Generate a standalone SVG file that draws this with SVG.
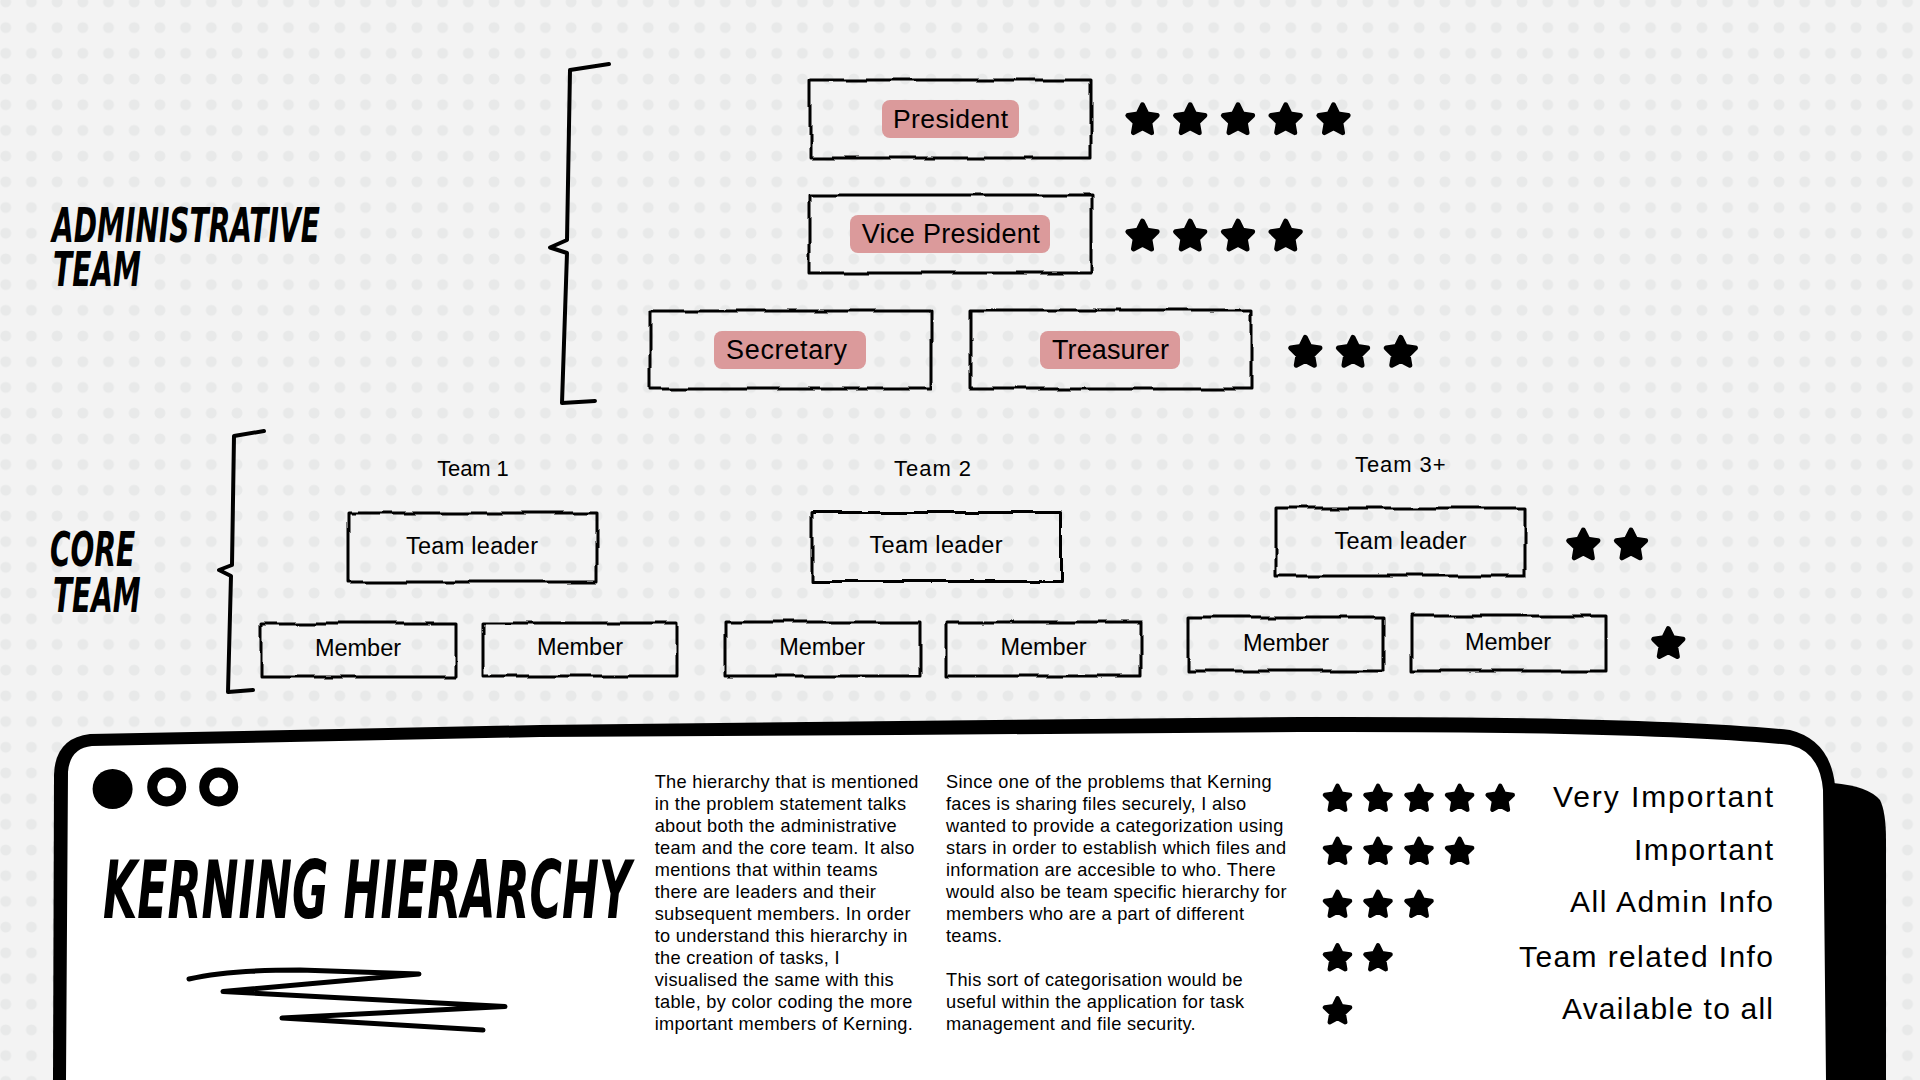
<svg xmlns="http://www.w3.org/2000/svg" width="1920" height="1080" viewBox="0 0 1920 1080">
<style>
.box{fill:none;stroke:#000;stroke-width:3;stroke-linejoin:round;filter:url(#rough)}
.pill{fill:#db9a9b}
.lbl{font-family:"Liberation Sans",Arial,sans-serif;fill:#000;text-anchor:middle}
.hand{font-family:"DejaVu Sans",sans-serif;font-style:italic;font-weight:bold;fill:#000}
.para{font-family:"Liberation Sans",Arial,sans-serif;font-size:18.2px;letter-spacing:0.3px;fill:#000}
.leg{font-family:"Liberation Sans",Arial,sans-serif;font-size:30px;fill:#000;text-anchor:end}
.brace{fill:none;stroke:#000;stroke-width:4;stroke-linecap:round;stroke-linejoin:round}
</style>
<defs>
<pattern id="dots" patternUnits="userSpaceOnUse" x="-7.15" y="-10.95" width="25.7" height="25.7">
<circle cx="12.85" cy="12.85" r="5.5" fill="#e8e9e9"/>
</pattern>
<filter id="rough" x="-5%" y="-25%" width="110%" height="150%">
<feTurbulence type="fractalNoise" baseFrequency="0.025" numOctaves="2" seed="7" result="n"/>
<feDisplacementMap in="SourceGraphic" in2="n" scale="5" xChannelSelector="R" yChannelSelector="G"/>
</filter>
<path id="star" d="M0,-14 L4.11,-5.66 L13.31,-4.33 L6.66,2.16 L8.23,11.33 L0,7 L-8.23,11.33 L-6.66,2.16 L-13.31,-4.33 L-4.11,-5.66 Z" fill="#000" stroke="#000" stroke-width="4.5" stroke-linejoin="round"/>
</defs>

<rect width="1920" height="1080" fill="#f3f3f3"/>
<rect width="1920" height="1080" fill="url(#dots)"/>

<g id="admin-title">
<text class="hand" transform="translate(52,241.5) scale(0.585,1)" font-size="48"><tspan x="0" y="0">ADMINISTRATIVE</tspan><tspan x="1.7" dy="45">TEAM</tspan></text>
</g>
<g id="core-title">
<text class="hand" transform="translate(50,566) scale(0.59,1)" font-size="47.5"><tspan x="0" y="0">CORE</tspan><tspan x="5" dy="46">TEAM</tspan></text>
</g>

<g id="braces">
<path class="brace" d="M609,64 L570,70 L567,240 L550,247.5 L567,253 L562,403 L595,401"/>
<path class="brace" d="M264,431 L234,436 L232,565 L219,570 L231,576 L228,692 L253,690"/>
</g>

<g id="president">
<rect class="box" x="810" y="80" width="281" height="78"/>
<rect class="pill" x="882" y="100" width="137" height="38" rx="8"/>
<text class="lbl" x="950.5" y="127.5" font-size="26.5" textLength="115">President</text>
</g>
<g id="vice-president">
<rect class="box" x="810" y="195" width="282" height="78"/>
<rect class="pill" x="850" y="215" width="200" height="38" rx="8"/>
<text class="lbl" x="950.7" y="243" font-size="27" textLength="178">Vice President</text>
</g>
<g id="secretary">
<rect class="box" x="650" y="311" width="281" height="78"/>
<rect class="pill" x="714" y="331" width="152" height="38" rx="8"/>
<text class="lbl" x="786.5" y="358.5" font-size="27" textLength="121">Secretary</text>
</g>
<g id="treasurer">
<rect class="box" x="970" y="310" width="281" height="79"/>
<rect class="pill" x="1040" y="331" width="140" height="38" rx="8"/>
<text class="lbl" x="1110.5" y="358.5" font-size="27" textLength="117">Treasurer</text>
</g>

<g id="admin-stars">
<use href="#star" transform="translate(1142.5,120.2) scale(1.1)"/>
<use href="#star" transform="translate(1190.2,120.2) scale(1.1)"/>
<use href="#star" transform="translate(1238,120.2) scale(1.1)"/>
<use href="#star" transform="translate(1285.7,120.2) scale(1.1)"/>
<use href="#star" transform="translate(1333.5,120.2) scale(1.1)"/>
<use href="#star" transform="translate(1142.5,236.5) scale(1.1)"/>
<use href="#star" transform="translate(1190.2,236.5) scale(1.1)"/>
<use href="#star" transform="translate(1238,236.5) scale(1.1)"/>
<use href="#star" transform="translate(1285.7,236.5) scale(1.1)"/>
<use href="#star" transform="translate(1305.3,352.8) scale(1.1)"/>
<use href="#star" transform="translate(1353,352.8) scale(1.1)"/>
<use href="#star" transform="translate(1400.8,352.8) scale(1.1)"/>
</g>

<g id="team1">
<text class="lbl" x="473" y="476" font-size="22" textLength="71.5">Team 1</text>
<g id="team1-leader">
<rect class="box" x="348" y="513" width="249" height="69"/>
<text class="lbl" x="472" y="554.3" font-size="23.5" textLength="132">Team leader</text>
</g>
<g id="team1-member1">
<rect class="box" x="261" y="623" width="195" height="54"/>
<text class="lbl" x="358" y="656" font-size="23.5" textLength="86">Member</text>
</g>
<g id="team1-member2">
<rect class="box" x="483" y="623" width="194" height="53"/>
<text class="lbl" x="580" y="655" font-size="23.5" textLength="86">Member</text>
</g>
</g>

<g id="team2">
<text class="lbl" x="932.5" y="476" font-size="22" textLength="77">Team 2</text>
<g id="team2-leader">
<rect class="box" x="812" y="512.5" width="248.5" height="69"/>
<text class="lbl" x="936" y="553.3" font-size="23.5" textLength="133">Team leader</text>
</g>
<g id="team2-member1">
<rect class="box" x="725" y="622" width="195" height="54"/>
<text class="lbl" x="822.2" y="655" font-size="23.5" textLength="86">Member</text>
</g>
<g id="team2-member2">
<rect class="box" x="946" y="622" width="195" height="54"/>
<text class="lbl" x="1043.5" y="655" font-size="23.5" textLength="86">Member</text>
</g>
</g>

<g id="team3">
<text class="lbl" x="1400.3" y="472" font-size="22" textLength="90.7">Team 3+</text>
<g id="team3-leader">
<rect class="box" x="1276" y="508" width="249" height="68"/>
<text class="lbl" x="1400.5" y="549" font-size="23.5" textLength="132">Team leader</text>
</g>
<g id="team3-member1">
<rect class="box" x="1189" y="617" width="195" height="54"/>
<text class="lbl" x="1286" y="650.7" font-size="23.5" textLength="86">Member</text>
</g>
<g id="team3-member2">
<rect class="box" x="1411" y="616" width="195" height="55"/>
<text class="lbl" x="1508" y="650" font-size="23.5" textLength="86">Member</text>
</g>
</g>

<g id="core-stars">
<use href="#star" transform="translate(1583.3,545.4) scale(1.1)"/>
<use href="#star" transform="translate(1631,545.4) scale(1.1)"/>
<use href="#star" transform="translate(1668.3,644) scale(1.1)"/>
</g>

<g id="card">
<path d="M1833,783 Q1868,786 1880,800 Q1886,812 1886,840 L1886,1080 L1832,1080 Z" fill="#000"/>
<path d="M53,1080 L54,775 Q55,738 90,734 L540,725 L900,721 L1300,717 Q1650,716 1790,730 Q1830,740 1835,785 L1837,1080 Z" fill="#000"/>
<path d="M66,1080 L68,772 Q70,748 92,746 L540,737 L900,735 L1300,732 Q1650,731 1790,745 Q1820,752 1823,790 L1826,1080 Z" fill="#fff"/>
<circle cx="112.6" cy="789" r="20" fill="#000"/>
<circle cx="166.7" cy="787" r="14.5" fill="none" stroke="#000" stroke-width="10"/>
<circle cx="218.7" cy="787" r="14.5" fill="none" stroke="#000" stroke-width="10"/>
<text class="hand" transform="translate(103,918) scale(0.55,1)" font-size="80" textLength="960" lengthAdjust="spacingAndGlyphs">KERNING HIERARCHY</text>
<path d="M189,979 C215,973 250,970 300,970 L419,974 L223,991.5 L505,1006.5 L282,1018 L483,1030" fill="none" stroke="#000" stroke-width="5" stroke-linecap="round" stroke-linejoin="round"/>
<text class="para" x="654.7" y="787.5">
<tspan x="654.7" dy="0">The hierarchy that is mentioned</tspan>
<tspan x="654.7" dy="22">in the problem statement talks</tspan>
<tspan x="654.7" dy="22">about both the administrative</tspan>
<tspan x="654.7" dy="22">team and the core team. It also</tspan>
<tspan x="654.7" dy="22">mentions that within teams</tspan>
<tspan x="654.7" dy="22">there are leaders and their</tspan>
<tspan x="654.7" dy="22">subsequent members. In order</tspan>
<tspan x="654.7" dy="22">to understand this hierarchy in</tspan>
<tspan x="654.7" dy="22">the creation of tasks, I</tspan>
<tspan x="654.7" dy="22">visualised the same with this</tspan>
<tspan x="654.7" dy="22">table, by color coding the more</tspan>
<tspan x="654.7" dy="22">important members of Kerning.</tspan>
</text>
<text class="para" x="946" y="787.5">
<tspan x="946" dy="0">Since one of the problems that Kerning</tspan>
<tspan x="946" dy="22">faces is sharing files securely, I also</tspan>
<tspan x="946" dy="22">wanted to provide a categorization using</tspan>
<tspan x="946" dy="22">stars in order to establish which files and</tspan>
<tspan x="946" dy="22">information are accesible to who. There</tspan>
<tspan x="946" dy="22">would also be team specific hierarchy for</tspan>
<tspan x="946" dy="22">members who are a part of different</tspan>
<tspan x="946" dy="22">teams.</tspan>
<tspan x="946" dy="44">This sort of categorisation would be</tspan>
<tspan x="946" dy="22">useful within the application for task</tspan>
<tspan x="946" dy="22">management and file security.</tspan>
</text>
</g>

<g id="legend">
<g id="legend-5">
<use href="#star" transform="translate(1337.5,799) scale(0.95)"/>
<use href="#star" transform="translate(1378,799) scale(0.95)"/>
<use href="#star" transform="translate(1419,799) scale(0.95)"/>
<use href="#star" transform="translate(1459.6,799) scale(0.95)"/>
<use href="#star" transform="translate(1500.2,799) scale(0.95)"/>
<text class="leg" x="1773" y="807.3" textLength="220">Very Important</text>
</g>
<g id="legend-4">
<use href="#star" transform="translate(1337.5,852) scale(0.95)"/>
<use href="#star" transform="translate(1378,852) scale(0.95)"/>
<use href="#star" transform="translate(1419,852) scale(0.95)"/>
<use href="#star" transform="translate(1459.6,852) scale(0.95)"/>
<text class="leg" x="1773" y="860" textLength="139">Important</text>
</g>
<g id="legend-3">
<use href="#star" transform="translate(1337.5,905) scale(0.95)"/>
<use href="#star" transform="translate(1378,905) scale(0.95)"/>
<use href="#star" transform="translate(1419,905) scale(0.95)"/>
<text class="leg" x="1773" y="911.7" textLength="203">All Admin Info</text>
</g>
<g id="legend-2">
<use href="#star" transform="translate(1337.5,958.5) scale(0.95)"/>
<use href="#star" transform="translate(1378,958.5) scale(0.95)"/>
<text class="leg" x="1773" y="966.7" textLength="254">Team related Info</text>
</g>
<g id="legend-1">
<use href="#star" transform="translate(1337.5,1011.5) scale(0.95)"/>
<text class="leg" x="1773" y="1019.3" textLength="211">Available to all</text>
</g>
</g>
</svg>
